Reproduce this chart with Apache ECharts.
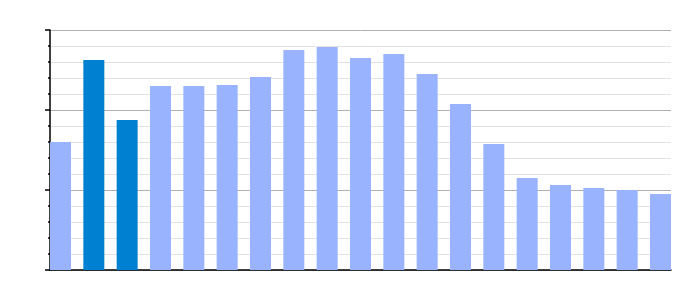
<!DOCTYPE html>
<html>
<head>
<meta charset="utf-8">
<script src="https://cdn.jsdelivr.net/npm/echarts@6/dist/echarts.min.js"></script>
<style>html,body{margin:0;padding:0;background:#fff}#c{width:700px;height:300px}</style>
</head>
<body>
<div id="c"></div>
<script>
const positions = [0,1,2,3,4,5,6,7,8,9,10,11,12,13,14,15,16,17,18];
const values = [8.0,13.125,9.375,11.5,11.5,11.56,12.06,13.75,13.94,13.25,13.5,12.25,10.375,7.875,5.75,5.31,5.125,5.0,4.75];
const highlighted = [1,2];

const chart = echarts.init(document.getElementById('c'), null, {renderer:'canvas'});
chart.setOption({
  animation:false,
  grid:{left:50,right:29,top:30,bottom:30},
  xAxis:{
    type:'value', min:-0.315, max:18.315,
    axisLine:{onZero:false, lineStyle:{color:'#000',width:1.5}},
    axisTick:{show:false}, axisLabel:{show:false}, splitLine:{show:false}
  },
  yAxis:{
    type:'value', min:0, max:15, interval:5,
    axisLine:{show:true,onZero:false,lineStyle:{color:'#000',width:1.5}},
    axisTick:{show:true,length:5,lineStyle:{color:'#000',width:1.5}},
    minorTick:{show:true,splitNumber:5,length:2,lineStyle:{color:'#000',width:1.5}},
    axisLabel:{show:false},
    splitLine:{show:true,lineStyle:{color:'#b0b0b0',width:1}},
    minorSplitLine:{show:true,lineStyle:{color:'#e2e2e2',width:1}}
  },
  series:[{
    type:'bar', barWidth:21,
    data: positions.map((p,i)=>({value:[p,values[i]], itemStyle:{color: highlighted.includes(i)?'#0080D0':'#99B3FF'}}))
  }]
});
</script>
</body>
</html>
